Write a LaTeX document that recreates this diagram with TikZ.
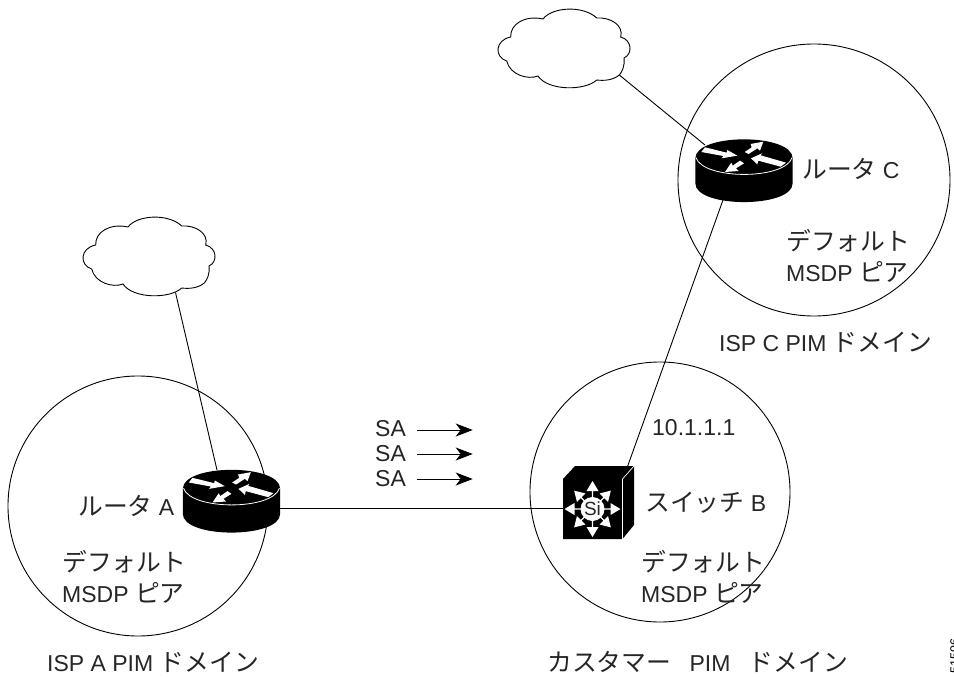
\documentclass[tikz,border=0pt]{standalone}
\usepackage{fontspec}
\usetikzlibrary{arrows.meta}
\setmainfont{Liberation Sans}
\newfontfamily\cjk{Noto Sans CJK JP}
\newcommand{\jp}[1]{{\fontsize{24.8}{31}\selectfont\cjk #1}}
\tikzset{
 x=1pt,y=-1pt,
 lbl/.style={font=\fontsize{23}{31}\selectfont,align=left,inner sep=0pt,anchor=west,text=black!85},
 dom/.style={draw=black,line width=0.9pt,circle,inner sep=0pt},
 conn/.style={draw=black,line width=0.9pt},
 cloudline/.style={draw=black,fill=white,line width=0.9pt},
 sarrow/.style={draw=black,line width=0.9pt,-{Stealth[length=17pt,width=13pt,inset=5pt]}},
}
\newcommand{\cloudshape}[1]{%
 \begin{scope}[shift={#1}]
 \path[cloudline] (510.7,37) .. controls (510,24) and (525,15) .. (543,19)
  .. controls (552,7) and (583,5) .. (596.7,18)
  .. controls (610,17) and (624,25) .. (620.7,37)
  .. controls (632,40) and (633,54) .. (624,58)
  .. controls (625,66) and (622,72) .. (619.3,75)
  .. controls (613,80) and (605,81) .. (596.7,80)
  .. controls (585,91) and (548,91) .. (538,76)
  .. controls (528,80) and (510,75) .. (506.7,61)
  .. controls (494,57) and (495,40) .. (510.7,37) -- cycle;
 \end{scope}}
\newcommand{\routershape}[1]{%
 \begin{scope}[shift={#1},x=0.3333pt,y=-0.3333pt]
 \fill[black] (106,205) -- (106,280) .. controls (106,355) and (398,355) .. (398,280) -- (398,205) .. controls (398,129) and (106,129) .. (106,205) -- cycle;
 \draw[white,line width=0.8pt] (108,203) .. controls (130,270) and (375,270) .. (396,203);
 \fill[white] (135,172) -- (200,188) -- (202,180) -- (232,197) -- (185,205) -- (190,198) -- (124,186) -- cycle;
 \fill[white] (254,186) -- (275,172) -- (272,162) -- (310,155) -- (300,182) -- (292,175) -- (266,192) -- cycle;
 \fill[white] (378,218) -- (302,196) -- (306,190)  -- (273,205) -- (292,223) -- (295,212) -- (362,230) -- cycle;
 \fill[white] (240,212) -- (218,227) -- (214,218) -- (195,246) -- (236,243) -- (228,235) -- (252,220) -- cycle;
 \end{scope}}
\begin{document}
\begin{tikzpicture}
\useasboundingbox (0,0) rectangle (954,677);
\fill[white] (0,0) rectangle (954,677);
% domains
\node[dom,minimum size=272pt] (dc) at (814,180) {};
\node[dom,minimum size=260pt] (da) at (138,506) {};
\node[dom,minimum size=260pt] (db) at (660,492) {};
% named points
\coordinate (racloud) at (217,470);
\coordinate (raswitch) at (275,508);
\coordinate (rccloud) at (705,145);
\coordinate (rcswitch) at (723,200);
\coordinate (swa) at (565,508);
\coordinate (swc) at (627,468);
\coordinate (cl1) at (619.3,75);
\coordinate (cl2) at (175.5,292.5);
% clouds
\cloudshape{(0,0)}
\cloudshape{(-415,208)}
% connectors
\draw[conn] (cl1) -- (rccloud);
\draw[conn] (cl2) -- (racloud);
\draw[conn] (raswitch) -- (swa);
\draw[conn] (rcswitch) -- (swc);
% devices
\routershape{(660,90)}
\routershape{(147.5,420.5)}
% switch
\fill[black] (563,479) -- (575,466) -- (634,466) -- (634,525) -- (622.5,539) -- (563,539) -- cycle;
\draw[white,line width=0.7pt] (622.5,479) -- (622.5,539);
\draw[white,line width=0.7pt] (622.5,479) -- (634,466);
\foreach \a/\t in {0/28,90/28,180/28,270/28,45/26,135/26,225/26,315/26}{
 \begin{scope}[shift={(592.5,509)},rotate=\a]
 \fill[white] (\t,0) -- (\t-10,-6) -- (\t-10,-0.6) -- (5,-0.6) -- (5,0.6) -- (\t-10,0.6) -- (\t-10,6) -- cycle;
 \end{scope}}
\fill[white] (592.5,509) circle (12);
\node[font=\fontsize{19}{19}\selectfont,inner sep=0pt,text=black!85] (si) at (592.5,509) {Si};
% labels
\node[lbl] (lc) at (802,169) {\jp{ルータ} C};
\node[lbl] (la) at (78,506) {\jp{ルータ} A};
\node[lbl] (lb) at (645,503) {\jp{スイッチ} B};
\node[lbl] (dc1) at (786,256) {\jp{デフォルト}\\MSDP \jp{ピア}};
\node[lbl] (da1) at (62,577) {\jp{デフォルト}\\MSDP \jp{ピア}};
\node[lbl] (db1) at (641,577) {\jp{デフォルト}\\MSDP \jp{ピア}};
\node[lbl] (n1) at (719,342) {ISP C PIM \jp{ドメイン}};
\node[lbl] (n2) at (47,662) {ISP A PIM \jp{ドメイン}};
\node[lbl] (n3) at (547,662) {\jp{カスタマー}\hspace{12pt} PIM \hspace{12pt}\jp{ドメイン}};
\node[lbl] (ip) at (652,428) {10.1.1.1};
\coordinate (s1a) at (417,430);
\coordinate (s1b) at (472.7,430);
\coordinate (s2a) at (417,454);
\coordinate (s2b) at (472.7,454);
\coordinate (s3a) at (417,479);
\coordinate (s3b) at (472.7,479);
\node[lbl] (sa1) at (375,429) {SA};
\node[lbl] (sa2) at (375,454) {SA};
\node[lbl] (sa3) at (375,479) {SA};
\draw[sarrow] (s1a) -- (s1b);
\draw[sarrow] (s2a) -- (s2b);
\draw[sarrow] (s3a) -- (s3b);
\node[rotate=90,font=\fontsize{12.6}{12.6}\selectfont,inner sep=0pt,anchor=north] (id) at (950,655.5) {51596};
\end{tikzpicture}
\end{document}
